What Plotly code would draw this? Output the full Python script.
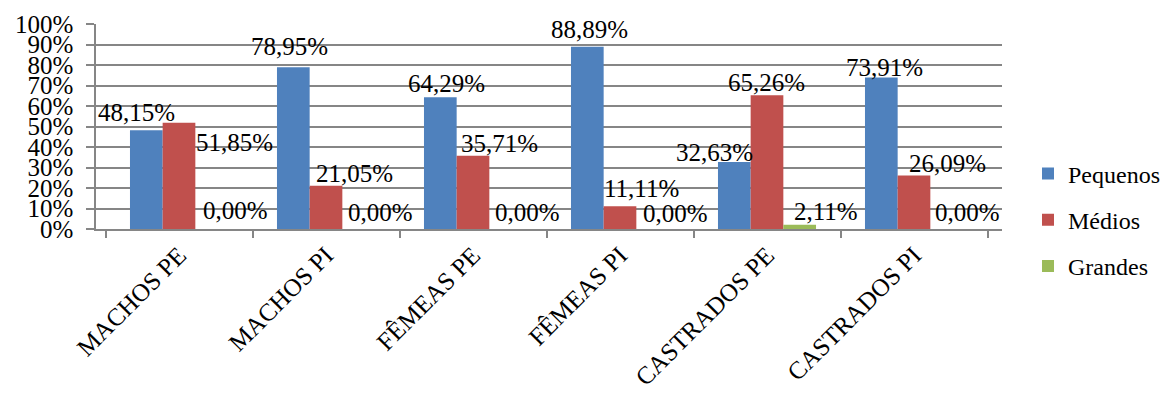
import plotly.graph_objects as go

categories = ["MACHOS PE", "MACHOS PI", "FÊMEAS PE", "FÊMEAS PI", "CASTRADOS PE", "CASTRADOS PI"]
pequenos = [48.15, 78.95, 64.29, 88.89, 32.63, 73.91]
medios = [51.85, 21.05, 35.71, 11.11, 65.26, 26.09]
grandes = [0.00, 0.00, 0.00, 0.00, 2.11, 0.00]
series_names = ["Pequenos", "Médios", "Grandes"]
tick_vals = [0, 10, 20, 30, 40, 50, 60, 70, 80, 90, 100]
tick_text = [f"{v}%" for v in tick_vals]

colors = ["#4F81BD", "#C0504D", "#9BBB59"]
FONT = "'Times New Roman', 'Liberation Serif', 'DejaVu Serif', serif"

# label offsets in px (dx right, dy down relative to bar top center) - hand placed as in source
label_dx = [
    [-9, -3, 7, 3, -19, 4],
    [55, 28, 26, 21, -1, 33],
    [23, 21, 21, 22, 25, 20],
]
label_dy = [
    [-18, -21, -14, -17, -10, -10],
    [20, -12, -12, -18, -13, -12],
    [-19, -17, -17, -16, -13, -17],
]
bar_px_offset = [-33.5, 0, 33.5]

fig = go.Figure()
all_series = [pequenos, medios, grandes]
for i, (name, vals) in enumerate(zip(series_names, all_series)):
    fig.add_trace(go.Bar(
        x=categories, y=vals, name=name,
        marker=dict(color=colors[i], line=dict(width=0)),
        legendgroup=name,
    ))
    for j, v in enumerate(vals):
        fig.add_annotation(
            x=categories[j], y=v, xref="x", yref="y",
            text=f"{v:.2f}%".replace(".", ","),
            showarrow=False,
            xanchor="center", yanchor="middle",
            xshift=bar_px_offset[i] + label_dx[i][j],
            yshift=-label_dy[i][j],
            font=dict(family=FONT, size=25, color="black"),
        )

fig.update_layout(
    width=1166, height=407,
    margin=dict(l=96, r=164, t=24, b=178, autoexpand=False),
    paper_bgcolor="white", plot_bgcolor="white",
    barmode="group", bargap=0.333, bargroupgap=0,
    font=dict(family=FONT, size=25, color="black"),
    showlegend=True,
    legend=dict(
        xref="container", x=1028 / 1166, xanchor="left",
        yref="container", y=(407 - 220) / 407, yanchor="middle",
        font=dict(family=FONT, size=24, color="black"),
        tracegroupgap=12, traceorder="grouped",
        itemwidth=30,
    ),
)
fig.update_yaxes(
    range=[0, 100], tickvals=tick_vals, ticktext=tick_text,
    showgrid=True, gridcolor="#868686", gridwidth=1.5,
    showline=True, linecolor="#868686", linewidth=1.5,
    ticks="outside", ticklen=8, tickcolor="#868686", tickwidth=1.5,
    ticklabelstandoff=8,
    tickfont=dict(family=FONT, size=25, color="black"),
    zeroline=False,
)
fig.update_xaxes(
    showline=True, linecolor="#868686", linewidth=1.5,
    ticks="outside", ticklen=7, tickcolor="#868686", tickwidth=1.5,
    tickson="boundaries",
    tickangle=-45,
    tickfont=dict(family=FONT, size=25, color="black"),
)

fig.write_html("out.html")
